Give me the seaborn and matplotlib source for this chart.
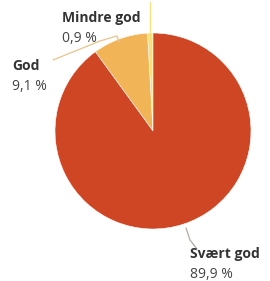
import numpy as np
import matplotlib.pyplot as plt
import seaborn as sns

# data
categories = ["Mindre god", "God", "Svært god"]
values = [0.9, 9.1, 89.9]
pct_labels = ["0,9 %", "9,1 %", "89,9 %"]
colors = ["#F7E07A", "#F1B456", "#CF4624"]

sns.set_style("white")
plt.rcParams["font.family"] = ["Open Sans", "DejaVu Sans"]

W, H = 270, 281
fig = plt.figure(figsize=(W / 100, H / 100), dpi=100)
ax = fig.add_axes([0, 0, 1, 1])

cx, cy, r = 153, H - 131, 98
wedges, _ = ax.pie(values, colors=colors, startangle=90, counterclock=True,
                   center=(cx, cy), radius=r, frame=True,
                   wedgeprops=dict(edgecolor="white", linewidth=0.4))
ax.set_xlim(0, W)
ax.set_ylim(0, H)
ax.set_aspect("equal")
ax.axis("off")

# leader lines (pixel coordinates, y measured from top)
def P(x, y):
    return x, H - y

lines = [
    ([P(150, 2), P(150, 34)], "#F7E07A"),
    ([P(53, 60), P(100, 41), P(117, 36), P(119, 42)], "#E8C48A"),
    ([P(186, 228), P(190, 240), P(197, 249)], "#B5A9A2"),
]
for pts, c in lines:
    xs, ys = zip(*pts)
    ax.plot(xs, ys, color=c, lw=0.9, solid_capstyle="round")

label_pos = [(62, 18), (12, 66), (190, 254)]
for (x, y), name, pct in zip(label_pos, categories, pct_labels):
    ax.text(x, H - y, name, fontsize=10, fontweight="bold", color="#333333",
            va="center", ha="left")
    ax.text(x, H - y - 21, pct, fontsize=10, color="#444444",
            va="center", ha="left")

fig.savefig("out.png", dpi=100, facecolor="white")
